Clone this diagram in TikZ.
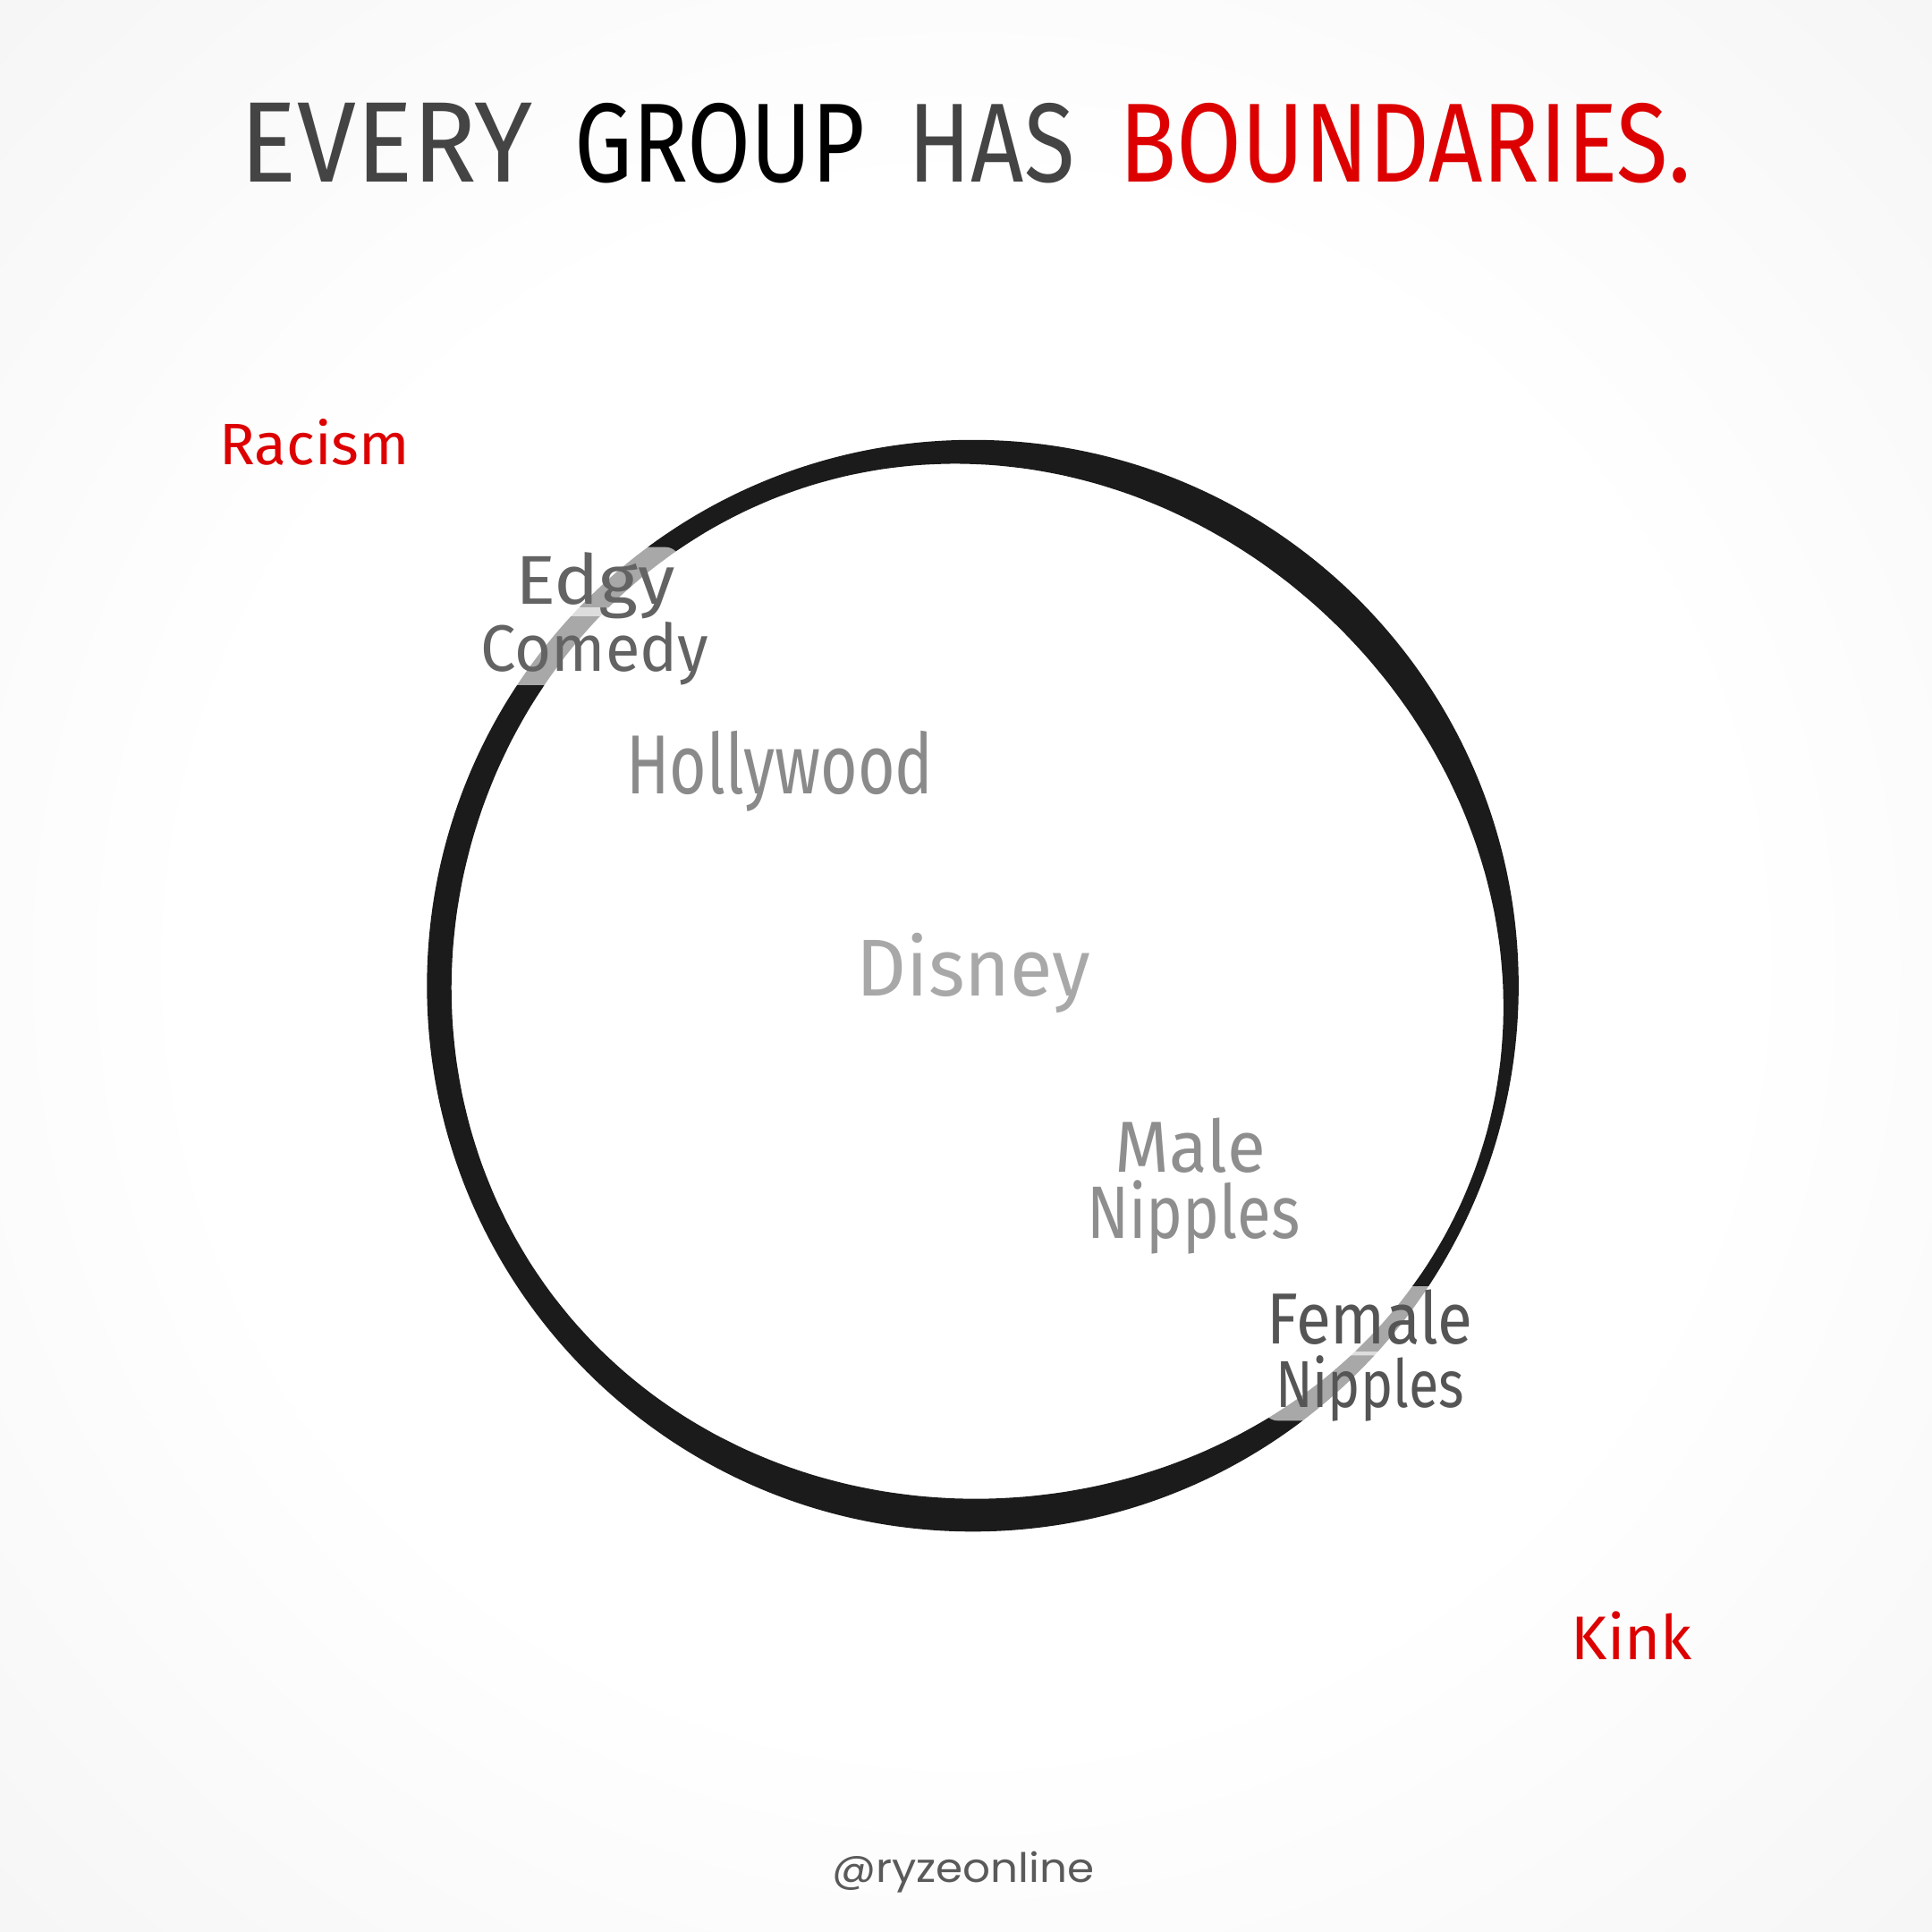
\documentclass[tikz,border=0pt]{standalone}
\usepackage{fontspec}
\usepackage{graphicx}
\setmainfont{Fira Sans}
\newfontfamily\wmfont{Poppins}
\definecolor{bgedge}{HTML}{EDEDED}
\definecolor{bgcorner}{HTML}{E1E1E1}
\definecolor{ringcol}{HTML}{1B1B1B}
\definecolor{titlegray}{HTML}{444444}
\definecolor{redc}{HTML}{DD0000}
\definecolor{edgyc}{HTML}{636363}
\definecolor{hollyc}{HTML}{8A8A8A}
\definecolor{disneyc}{HTML}{A8A8A8}
\definecolor{malec}{HTML}{8E8E8E}
\definecolor{femalec}{HTML}{555555}
\definecolor{wmc}{HTML}{5A5A5A}
\pgfdeclareradialshading{vign}{\pgfpoint{0bp}{0bp}}{color(0bp)=(white); color(20bp)=(white); color(50bp)=(bgedge); color(71bp)=(bgcorner)}
\newcommand{\fitt}[3]{\resizebox{#1pt}{#2pt}{#3}}
\begin{document}
\begin{tikzpicture}[x=1pt,y=-1pt,
  lbl/.style={inner sep=0pt, anchor=base west},
  halo/.style={fill=white, opacity=0.62, rounded corners=12pt}]
\useasboundingbox (0,0) rectangle (1568,1568);
\shade[shading=vign] (0,0) rectangle (1568,1568);
% ring
\begin{scope}[shift={(789.5,800)}]
\fill[white] (0,0) circle[radius=425];
\fill[ringcol, even odd rule] (0,0) circle[radius=443]
  plot[domain=0:356, samples=90, smooth cycle, variable=\a]
  (\a:{443-(19.7-1.1*cos(\a)-3.4*cos(2*\a)-4.2*sin(2*\a)-2.5*cos(3*\a)-3.5*sin(3*\a))});
\end{scope}
% title
\node[lbl, text=titlegray] (t1) at (195,148) {\fitt{237}{64}{EVERY}};
\node[lbl, text=black] (t2) at (466,148) {\fitt{236}{64}{GROUP}};
\node[lbl, text=titlegray] (t3) at (737,148) {\fitt{135}{64}{HAS}};
\node[lbl, text=redc] (t4) at (908,148) {\fitt{464}{64}{BOUNDARIES.}};
% outside labels
\node[lbl, text=redc] (racism) at (178,377) {\fitt{154}{37}{Racism}};
\node[lbl, text=redc] (kink) at (1275,1347) {\fitt{98}{39}{Kink}};
% halos
\fill[halo] (409,444) rectangle (552,500);
\fill[halo] (385,493) rectangle (583,556);
\fill[halo] (548,540) rectangle (583,570);
\fill[halo] (1018,1044) rectangle (1201,1100);
\fill[halo] (1025,1097) rectangle (1195,1153);
\fill[halo] (1070,1140) rectangle (1120,1174);
% inside labels
\node[lbl, text=edgyc] (edgy) at (418,490) {\fitt{130}{42}{Edgy}};
\node[lbl, text=edgyc] (comedy) at (390,545) {\fitt{185}{40}{Comedy}};
\node[lbl, text=hollyc] (holly) at (508,644) {\fitt{249}{51}{Hollywood}};
\node[lbl, text=disneyc] (disney) at (695,808) {\fitt{190}{51}{Disney}};
\node[lbl, text=malec] (male) at (905,951) {\fitt{122}{44}{Male}};
\node[lbl, text=malec] (mnip) at (882,1005) {\fitt{173}{47}{Nipples}};
\node[lbl, text=femalec] (female) at (1028,1091) {\fitt{167}{44}{Female}};
\node[lbl, text=femalec] (fnip) at (1035,1142) {\fitt{153}{42}{Nipples}};
% watermark
\node[lbl, text=wmc] (wm) at (675,1528) {\fitt{213}{25}{\wmfont @ryzeonline}};
\end{tikzpicture}
\end{document}
